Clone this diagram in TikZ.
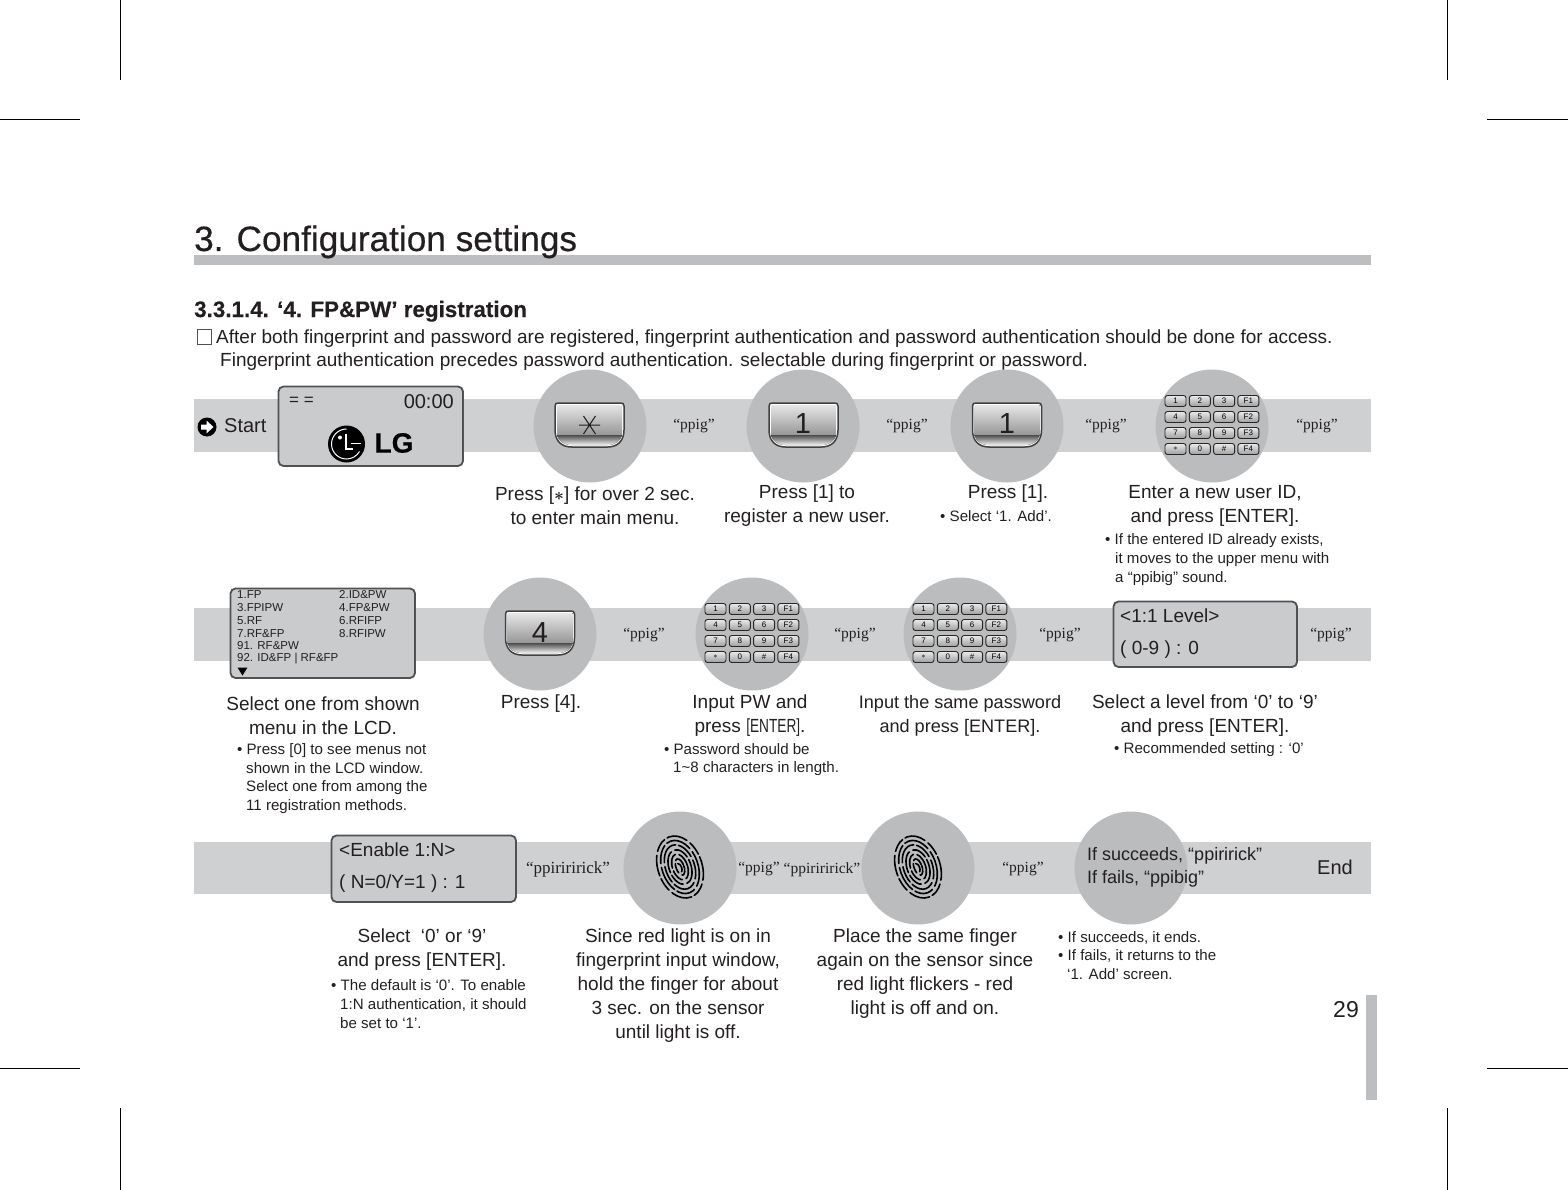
\documentclass[tikz,border=0pt]{standalone}
\usepackage{fontspec}
\setmainfont{Liberation Sans}
\newfontfamily\ppigfont{Liberation Serif}
\newfontfamily\titlefont[FakeBold=0.4]{Liberation Sans}
\usetikzlibrary{calc}
\definecolor{inkcolor}{RGB}{35,31,32}
\definecolor{bandcolor}{RGB}{207,208,210}
\definecolor{discolor}{RGB}{187,188,190}
\definecolor{lcdcolor}{RGB}{202,203,205}
\definecolor{edgecolor}{RGB}{80,81,83}
\definecolor{barcolor}{RGB}{189,190,192}
\tikzset{
  cropmark/.style={black, line width=0.8pt},
  band/.style={fill=bandcolor, draw=none},
  disc/.style={circle, fill=discolor, minimum size=113pt, inner sep=0pt},
  lcdbox/.style={fill=lcdcolor, draw=edgecolor, line width=1.8pt, rounded corners=5pt},
  lcdtext/.style={text=inkcolor, anchor=west, inner sep=0pt, font=\fontsize{19}{24}\selectfont},
  menutext/.style={text=inkcolor, anchor=west, inner sep=0pt, font=\fontsize{11.5}{13}\selectfont},
  sound/.style={text=inkcolor, inner sep=0pt, yshift=-1.5pt, font=\ppigfont\fontsize{15.5}{18}\selectfont},
  steptext/.style={text=inkcolor, align=center, inner sep=0pt, yshift=-2pt, font=\fontsize{19}{24}\selectfont},
  notetext/.style={text=inkcolor, align=left, anchor=west, inner sep=0pt, yshift=-0.5pt, font=\fontsize{15.1}{18.8}\selectfont},
  keylabel/.style={text=inkcolor, inner sep=0pt, font=\fontsize{29}{30}\selectfont},
  fpline/.style={black, line width=1.6pt, line cap=round},
  keycap/.pic={
    \draw[black!75, line width=1.5pt, fill=white] (-34.5,-20) .. controls (-34.5,-22.5) and (-33,-23) .. (-31,-23)
      -- (31,-23) .. controls (33,-23) and (34.5,-22.5) .. (34.5,-20) -- (34.5,4)
      .. controls (34.5,15) and (28,21) .. (18,21) -- (-18,21) .. controls (-28,21) and (-34.5,15) .. (-34.5,4) -- cycle;
    \fill[bottom color=black!42, top color=black!10] (-32.5,-21) -- (32.5,-21) -- (32.5,10) -- (-32.5,10) -- cycle;
    \fill[top color=black!70, bottom color=black!5] (-32.5,9) -- (32.5,9) .. controls (31,15) and (26,19) .. (18,19)
      -- (-18,19) .. controls (-26,19) and (-31,15) .. (-32.5,9) -- cycle;
  },
  keypad/.pic={
    \foreach \lbl [count=\i from 0] in {1,2,3,F1,4,5,6,F2,7,8,9,F3,$\ast$,0,\#,F4} {
      \pgfmathtruncatemacro{\col}{mod(\i,4)}
      \pgfmathtruncatemacro{\row}{div(\i,4)}
      \node[draw=black!85, line width=0.9pt, rounded corners=2.5pt, top color=black!8, bottom color=black!38,
        minimum width=21pt, minimum height=11pt, inner sep=0pt, text=black, font=\fontsize{8}{8}\selectfont]
        (-b\i) at ({-36.5+24.3*\col},{-25+16*\row}) {\lbl};
    }
  },
  fingerprint/.pic={
    \begin{scope}[rotate=20]
      \foreach \a/\b/\d/\e in {22/32/21/14, 18/27.5/26/19, 14.5/23/17/24, 11/18/22/15, 7.5/13.5/15/13, 4/8.5/11/10} {
        \draw[fpline, dash pattern=on \d pt off 4pt on \e pt off 3pt] (0,0) ellipse [x radius=\a, y radius=\b];
      }
      \draw[fpline] (-1,-4) .. controls (2,-3) and (2,3) .. (0,5);
    \end{scope}
  },
}
\begin{document}
\begin{tikzpicture}[x=1pt, y=-1pt]
    \useasboundingbox (0,0) rectangle (1568,1190);
    % crop marks
    \draw[cropmark] (120,0) -- (120,80);
    \draw[cropmark] (1447,0) -- (1447,80);
    \draw[cropmark] (120,1108) -- (120,1190);
    \draw[cropmark] (1447,1108) -- (1447,1190);
    \draw[cropmark] (0,119.5) -- (80,119.5);
    \draw[cropmark] (1487,119.5) -- (1568,119.5);
    \draw[cropmark] (0,1068.5) -- (80,1068.5);
    \draw[cropmark] (1487,1068.5) -- (1568,1068.5);
    % heading
    \fill[barcolor] (194,255) rectangle (1371,265);
    \node[text=inkcolor, anchor=base west, inner sep=0pt, font=\titlefont\fontsize{35.2}{38}\selectfont] (title) at (194,251) {3. Configuration settings};
    \node[text=inkcolor, anchor=base west, inner sep=0pt, font=\titlefont\bfseries\fontsize{22.4}{26}\selectfont] (subtitle) at (194,317) {3.3.1.4. ‘4. FP\&PW’ registration};
    \draw[edgecolor, line width=0.8pt] (197,329.5) rectangle (211,344);
    \node[text=inkcolor, anchor=base west, inner sep=0pt, font=\fontsize{19}{24}\selectfont] (introa) at (216,343) {After both fingerprint and password are registered, fingerprint authentication and password authentication should be done for access.};
    \node[text=inkcolor, anchor=base west, inner sep=0pt, font=\fontsize{19}{24}\selectfont] (introb) at (220,366) {Fingerprint authentication precedes password authentication. selectable during fingerprint or password.};
    % bands
    \fill[band] (194,399) rectangle (1371,452);
    \fill[band] (194,608) rectangle (1371,661);
    \fill[band] (194,842) rectangle (1371,894);
    % row 1
    \fill[black] (207,427) circle (9.5);
    \fill[white] (201,424.5) -- (206.5,424.5) -- (206.5,420.5) -- (213.5,427) -- (206.5,433.5) -- (206.5,429.5) -- (201,429.5) -- cycle;
    \node[lcdtext, font=\fontsize{20}{24}\selectfont] (start) at (224,426) {Start};
    \draw[lcdbox] (278.5,386.5) rectangle (463,466);
    \node[lcdtext, font=\fontsize{17}{20}\selectfont] (lcdeq) at (289,401) {= =};
    \node[text=inkcolor, anchor=east, inner sep=0pt, font=\fontsize{20}{24}\selectfont] (lcdtime) at (454,402) {00:00};
    % LG mark
    \fill[black] (346.5,444) circle (18.5);
    \draw[white, line width=1pt] (346.5,429) arc (270:30:15);
    \fill[white] (340,437.5) circle (2);
    \draw[white, line width=1.2pt] (346,434) -- (346,449) -- (352.5,449);
    \draw[white, line width=1.2pt] (350.5,443.5) -- (360.5,443.5);
    \node[text=black, inner sep=0pt, font=\titlefont\bfseries\fontsize{28}{32}\selectfont] (lgtext) at (394,443) {LG};
    \node[disc] (discstar) at (590,426) {};
    \pic at (589.5,426) {keycap};
    \draw[inkcolor, line width=1pt] (579,425) -- (600,425) (583.5,416) -- (595.5,434) (595.5,416) -- (583.5,434);
    \node[sound] (snda) at (694,425) {“ppig”};
    \node[disc] (discone) at (803,426) {};
    \pic at (803.5,426) {keycap};
    \node[keylabel] (keyone) at (803,424) {1};
    \node[sound] (sndb) at (907,425) {“ppig”};
    \node[disc] (disctwo) at (1007,426) {};
    \pic at (1007,426) {keycap};
    \node[keylabel] (keytwo) at (1007,424) {1};
    \node[sound] (sndc) at (1106,425) {“ppig”};
    \node[disc] (discthree) at (1212,426) {};
    \pic (padone) at (1212,426) {keypad};
    \node[sound] (sndd) at (1317,425) {“ppig”};
    \node[steptext] (stepa) at (595,504) {Press [{\boldmath$\ast$}] for over 2 sec.\\to enter main menu.};
    \node[steptext] (stepb) at (807,504) {Press [1] to\\register a new user.};
    \node[steptext] (stepc) at (1008,492) {Press [1].};
    \node[notetext] (notec) at (940,516) {• Select ‘1. Add’.};
    \node[steptext] (stepd) at (1215,504) {Enter a new user ID,\\and press [ENTER].};
    \node[notetext] (noted) at (1105,559) {• If the entered ID already exists,\\\hspace*{10pt}it moves to the upper menu with\\\hspace*{10pt}a “ppibig” sound.};
    % row 2
    \draw[lcdbox] (230.5,588.5) rectangle (415,678);
    \foreach \y/\txt in {595/1.FP, 608/3.FPIPW, 621/5.RF, 633.5/7.RF\&FP, 646/91. RF\&PW, 659/92. ID\&FP | RF\&FP} {
      \node[menutext] at (237,\y) {\txt};
    }
    \foreach \y/\txt in {595/2.ID\&PW, 608/4.FP\&PW, 621/6.RFIFP, 633.5/8.RFIPW} {
      \node[menutext] at (339,\y) {\txt};
    }
    \fill[black] (237.5,667.5) -- (247.5,667.5) -- (242.5,675.5) -- cycle;
    \node[disc] (discfour) at (540,634) {};
    \pic at (540,634) {keycap};
    \node[keylabel] (keyfour) at (540,633) {4};
    \node[sound] (snde) at (644,634) {“ppig”};
    \node[disc] (discfive) at (752,634) {};
    \pic (padtwo) at (752,634) {keypad};
    \node[sound] (sndf) at (855,634) {“ppig”};
    \node[disc] (discsix) at (960,634) {};
    \pic (padthree) at (960,634) {keypad};
    \node[sound] (sndg) at (1060,634) {“ppig”};
    \draw[lcdbox] (1113.5,601.5) rectangle (1297,667);
    \node[lcdtext] (levela) at (1120,616) {<1:1 Level>};
    \node[lcdtext] (levelb) at (1120,650) {( 0-9 ) : 0};
    \node[sound] (sndh) at (1331,634) {“ppig”};
    \node[steptext] (stepe) at (323,714) {Select one from shown\\menu in the LCD.};
    \node[notetext] (notee) at (237,778) {• Press [0] to see menus not\\\hspace*{9pt}shown in the LCD window.\\\hspace*{9pt}Select one from among the\\\hspace*{9pt}11 registration methods.};
    \node[steptext] (stepf) at (541,702) {Press [4].};
    \node[steptext] (stepg) at (750,714) {Input PW and\\press \scalebox{0.72}[1]{[ENTER]}.};
    \node[notetext] (noteg) at (664,759) {• Password should be\\\hspace*{9pt}1\textasciitilde8 characters in length.};
    \node[steptext, font=\fontsize{18.1}{24}\selectfont] (steph) at (960,714) {Input the same password\\and press [ENTER].};
    \node[steptext] (stepi) at (1205,713.5) {Select a level from ‘0’ to ‘9’\\and press [ENTER].};
    \node[notetext] (notei) at (1114,749) {• Recommended setting : ‘0’};
    % row 3
    \draw[lcdbox] (331.5,835.5) rectangle (516,902);
    \node[lcdtext] (enablea) at (339,850) {<Enable 1:N>};
    \node[lcdtext] (enableb) at (339,884) {( N=0/Y=1 ) : 1};
    \node[sound, font=\ppigfont\fontsize{17}{18}\selectfont] (sndi) at (568,868) {“ppiriririck”};
    \node[disc] (discseven) at (680,868) {};
    \pic at (680,867) {fingerprint};
    \node[sound] (sndj) at (759,868) {“ppig”};
    \node[sound] (sndk) at (822,868) {“ppiriririck”};
    \node[disc] (disceight) at (918,868) {};
    \pic at (918,867) {fingerprint};
    \node[sound] (sndl) at (1023,868) {“ppig”};
    \node[disc] (discnine) at (1131,868) {};
    \node[text=inkcolor, align=left, anchor=west, inner sep=0pt, font=\fontsize{18}{23.5}\selectfont] (result) at (1087,867.5) {If succeeds, “ppiririck”\\If fails, “ppibig”};
    \node[lcdtext, font=\fontsize{20}{24}\selectfont] (finish) at (1317,867) {End};
    \node[steptext] (stepj) at (422,948) {Select\ \ ‘0’ or ‘9’\\and press [ENTER].};
    \node[notetext] (notej) at (331,1003.5) {• The default is ‘0’. To enable\\\hspace*{9pt}1:N authentication, it should\\\hspace*{9pt}be set to ‘1’.};
    \node[steptext] (stepk) at (678,984) {Since red light is on in\\fingerprint input window,\\hold the finger for about\\3 sec. on the sensor\\until light is off.};
    \node[steptext] (stepl) at (925,972) {Place the same finger\\again on the sensor since\\red light flickers - red\\light is off and on.};
    \node[notetext] (notel) at (1058,955) {• If succeeds, it ends.\\• If fails, it returns to the\\\hspace*{9pt}‘1. Add’ screen.};
    % page number
    \node[text=inkcolor, inner sep=0pt, font=\fontsize{23}{26}\selectfont] (pageno) at (1346,1010) {29};
    \fill[barcolor] (1366,995) rectangle (1377,1100);
\end{tikzpicture}
\end{document}
